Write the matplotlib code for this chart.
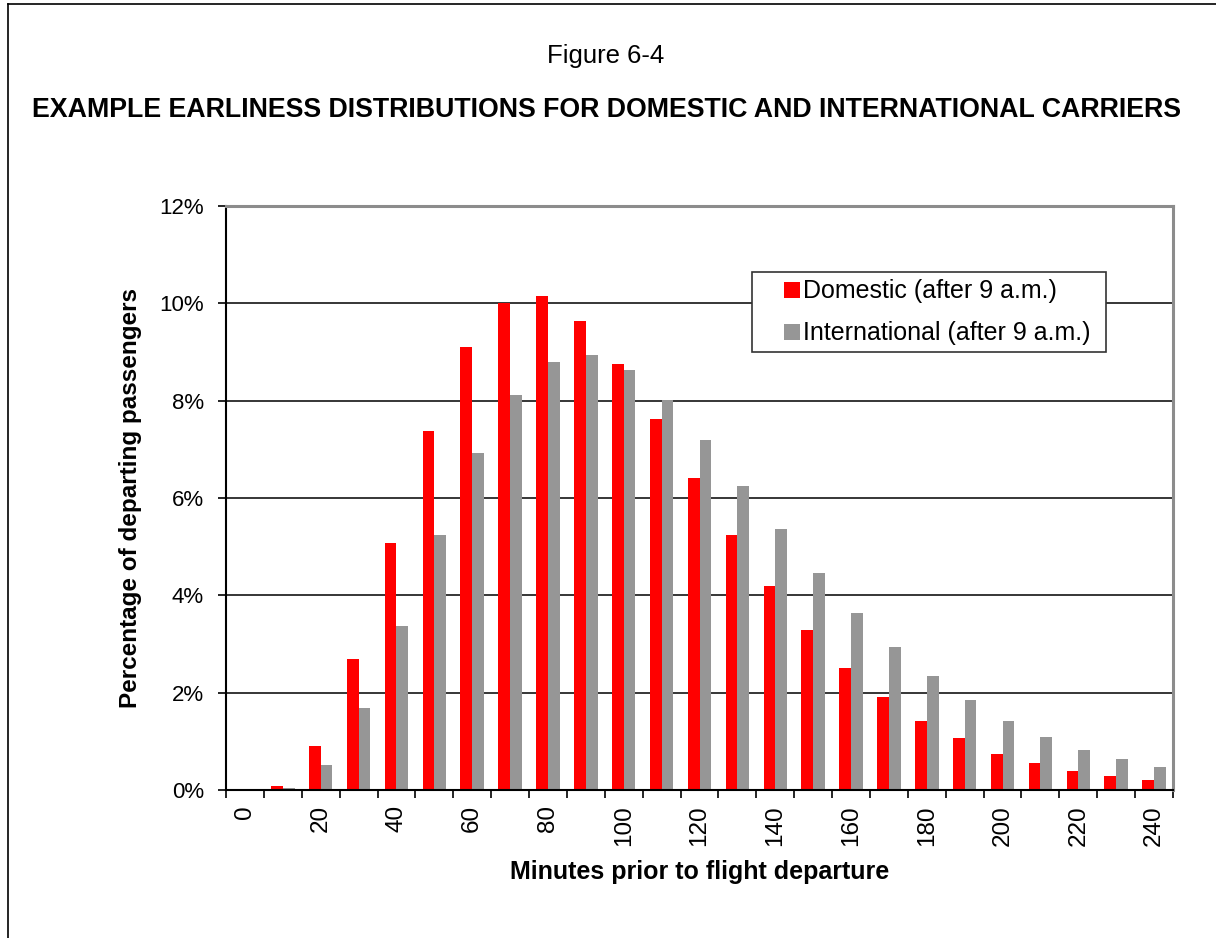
import matplotlib
matplotlib.use("Agg")
import matplotlib.pyplot as plt
from matplotlib.lines import Line2D
from matplotlib.patches import Rectangle
from matplotlib.ticker import FixedLocator, PercentFormatter

plt.rcParams["font.family"] = ["Liberation Sans", "DejaVu Sans"]

# Minutes before departure, one bar group per 10-minute bin
minutes = [0, 10, 20, 30, 40, 50, 60, 70, 80, 90, 100, 110, 120,
           130, 140, 150, 160, 170, 180, 190, 200, 210, 220, 230, 240]

# Share of departing passengers (%) arriving in each bin
domestic = [0.00, 0.08, 0.90, 2.69, 5.08, 7.38, 9.11, 10.01, 10.15, 9.64,
            8.76, 7.63, 6.41, 5.24, 4.19, 3.29, 2.51, 1.91, 1.42, 1.07,
            0.74, 0.55, 0.39, 0.29, 0.21]
international = [0.00, 0.04, 0.51, 1.69, 3.37, 5.24, 6.93, 8.12, 8.80, 8.94,
                 8.63, 8.02, 7.19, 6.25, 5.36, 4.46, 3.64, 2.94, 2.34, 1.85,
                 1.42, 1.09, 0.82, 0.64, 0.47]

series_labels = ["Domestic (after 9 a.m.)", "International (after 9 a.m.)"]
series_colors = ["#ff0000", "#969696"]
y_ticks = [0, 2, 4, 6, 8, 10, 12]

W, H = 1216, 938
fig = plt.figure(figsize=(W / 100, H / 100), dpi=100)

# outer frame (left and top edges)
fig.add_artist(Line2D([8 / W, 8 / W], [0, 1 - 4 / H], transform=fig.transFigure,
                      color="black", lw=1.2))
fig.add_artist(Line2D([8 / W, 1], [1 - 4 / H, 1 - 4 / H], transform=fig.transFigure,
                      color="black", lw=1.2))

fig.text(606 / W, 1 - 56 / H, "Figure 6-4", ha="center", va="center", fontsize=18.5)
fig.text(607 / W, 1 - 110 / H,
         "EXAMPLE EARLINESS DISTRIBUTIONS FOR DOMESTIC AND INTERNATIONAL CARRIERS",
         ha="center", va="center", fontsize=19.3, fontweight="bold")

left, right, top, bottom = 226, 1173, 206, 790
ax = fig.add_axes([left / W, 1 - bottom / H, (right - left) / W, (bottom - top) / H])

idx = list(range(len(minutes)))
bw = 0.31
ax.bar([i - bw / 2 for i in idx], domestic, width=bw, color=series_colors[0], linewidth=0)
ax.bar([i + bw / 2 for i in idx], international, width=bw, color=series_colors[1], linewidth=0)

ax.set_xlim(-0.5, len(minutes) - 0.5)
ax.set_ylim(0, 12)

# labels on every other bin, tick marks on bin boundaries
ax.xaxis.set_major_locator(FixedLocator(idx[::2]))
ax.set_xticklabels([str(m) for m in minutes[::2]], rotation=90, va="top", ha="center")
ax.xaxis.set_minor_locator(FixedLocator([i - 0.5 for i in range(len(minutes) + 1)]))
ax.tick_params(axis="x", which="major", length=0, pad=11, labelsize=17.5)
ax.tick_params(axis="x", which="minor", length=6, width=1.2, direction="out", color="black")

ax.set_yticks(y_ticks)
ax.yaxis.set_major_formatter(PercentFormatter(decimals=0))
ax.tick_params(axis="y", length=6, width=1.2, direction="out", pad=10, labelsize=16)

ax.grid(axis="y", color="black", lw=1.1)
ax.set_axisbelow(True)

for side in ("left", "bottom"):
    ax.spines[side].set_color("black")
    ax.spines[side].set_linewidth(1.5)
for side in ("top", "right"):
    ax.spines[side].set_color("#8c8c8c")
    ax.spines[side].set_linewidth(2.2)

ax.set_xlabel("Minutes prior to flight departure", fontsize=18, fontweight="bold", labelpad=10)
ax.set_ylabel("Percentage of departing passengers", fontsize=17.5, fontweight="bold", labelpad=12)

# legend box drawn separately so its padding can be set freely
ax.add_patch(Rectangle((0.5554, 0.750), 0.3738, 0.137, transform=ax.transAxes,
                       facecolor="white", edgecolor="#333333", lw=1.2, zorder=4))
handles = [Line2D([], [], linestyle="none", marker="s", markersize=11.5,
                  markerfacecolor=c, markeredgewidth=0) for c in series_colors]
leg = ax.legend(handles, series_labels, loc="upper left", bbox_to_anchor=(0.558, 0.887),
                borderaxespad=0, fontsize=18, frameon=False, borderpad=0.3,
                handlelength=2.4, handletextpad=-0.75, labelspacing=0.72)
leg.set_zorder(5)

fig.savefig("out.png", dpi=100)
